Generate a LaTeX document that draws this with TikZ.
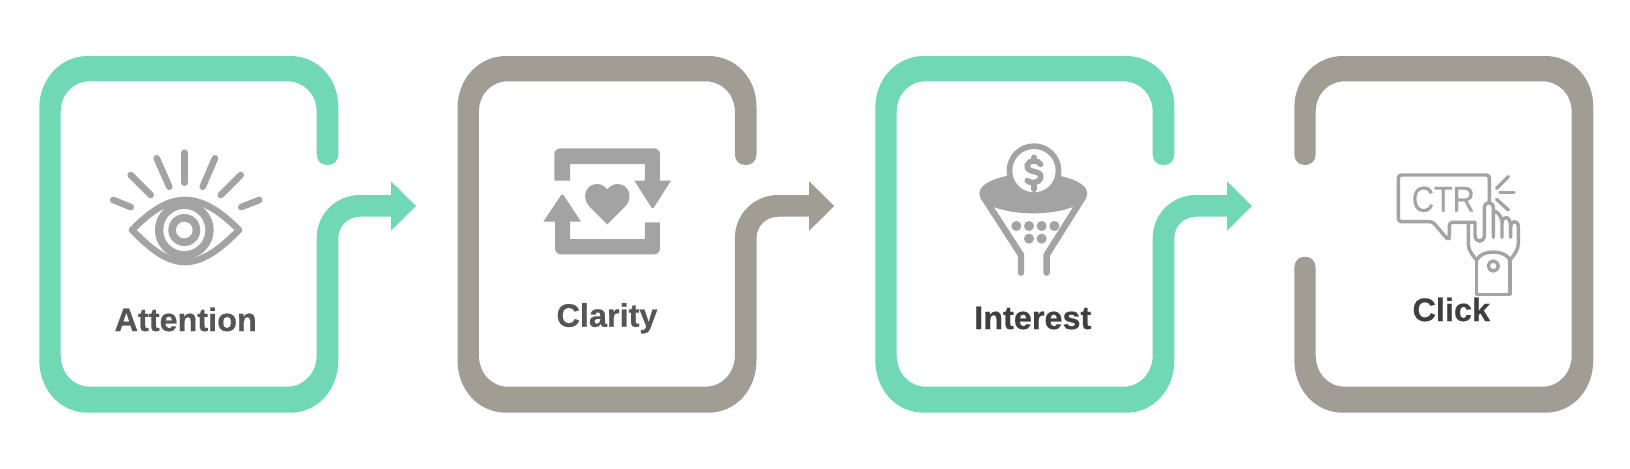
\documentclass[tikz,border=0pt]{standalone}
\usepackage{fontspec}
\setmainfont{Liberation Sans}
\newfontfamily\labelfont[BoldFeatures={FakeBold=0.6}]{Liberation Sans}
\newfontfamily\ctrfont[FakeBold=0.35]{Liberation Sans}
\definecolor{ringgreen}{HTML}{70D8B5}
\definecolor{ringgrey}{HTML}{A19C94}
\definecolor{icongrey}{HTML}{A3A3A3}
\definecolor{labeldark}{HTML}{555555}
\definecolor{labeldarker}{HTML}{3F3F3F}
\tikzset{
  panelarrow/.pic={
    \path[pic actions]
      (338.3,154) -- (338.3,107) .. controls (338.3,78) and (317.6,56) .. (290,56)
      -- (88,56) .. controls (60.4,56) and (39.3,79) .. (39.3,108)
      -- (39.3,360) .. controls (39.3,390) and (60.4,412.7) .. (88,412.7)
      -- (290,412.7) .. controls (317.6,412.7) and (338.3,390) .. (338.3,360)
      -- (338.3,238) .. controls (338.3,226) and (348,216.7) .. (360,216.7)
      -- (391,216.7) -- (391,230.7) -- (416,206) -- (391,181.3) -- (391,195)
      -- (360,195) .. controls (336,195) and (316.7,214) .. (316.7,238)
      -- (316.7,355) .. controls (316.7,373) and (304,386.7) .. (287,386.7)
      -- (90,386.7) .. controls (73,386.7) and (60.7,373) .. (60.7,355)
      -- (60.7,112) .. controls (60.7,94.3) and (73,81.3) .. (90,81.3)
      -- (287,81.3) .. controls (304,81.3) and (316.7,94.3) .. (316.7,112)
      -- (316.7,154) .. controls (316.7,161) and (321,165) .. (327.5,165)
      .. controls (334,165) and (338.3,161) .. (338.3,154) -- cycle;
  },
  panelgap/.pic={
    \path[pic actions]
      (39.3,154) -- (39.3,108) .. controls (39.3,79) and (60.4,56) .. (88,56)
      -- (290,56) .. controls (317.6,56) and (338.3,78) .. (338.3,107)
      -- (338.3,360) .. controls (338.3,390) and (317.6,412.7) .. (290,412.7)
      -- (88,412.7) .. controls (60.4,412.7) and (39.3,390) .. (39.3,360)
      -- (39.3,267.5) .. controls (39.3,261) and (44,256.7) .. (50,256.7)
      .. controls (56,256.7) and (60.7,261) .. (60.7,267.5)
      -- (60.7,355) .. controls (60.7,373) and (73,386.7) .. (90,386.7)
      -- (287,386.7) .. controls (304,386.7) and (316.7,373) .. (316.7,355)
      -- (316.7,112) .. controls (316.7,94.3) and (304,81.3) .. (287,81.3)
      -- (90,81.3) .. controls (73,81.3) and (60.7,94.3) .. (60.7,112)
      -- (60.7,154) .. controls (60.7,161) and (56,165) .. (50,165)
      .. controls (44,165) and (39.3,161) .. (39.3,154) -- cycle;
  },
  labeltext/.style={anchor=base,inner sep=0pt,font=\labelfont\fontsize{16.2}{20}\selectfont\bfseries},
  eyeray/.style={draw=icongrey,line width=3.3pt,line cap=round},
  thin icon/.style={draw=icongrey,line width=1.7pt,line join=round,line cap=round},
  funnel line/.style={draw=icongrey,line width=3.2pt,line cap=round,line join=round},
  dollar line/.style={draw=icongrey,line width=2.8pt,line cap=round},
}
\begin{document}
\begin{tikzpicture}[x=.5pt,y=-.5pt]
\useasboundingbox (0,0) rectangle (1630,468);
\fill[white] (0,0) rectangle (1630,468);
\pic[fill=ringgreen] at (0,0) {panelarrow};
\pic[fill=ringgrey] at (418.2,0) {panelarrow};
\pic[fill=ringgreen] at (836,0) {panelarrow};
\pic[fill=ringgrey] at (1255,0) {panelgap};
% eye
\draw[eyeray] (113.3,200) -- (130.7,207);
\draw[eyeray] (130.7,175) -- (150.7,195);
\draw[eyeray] (156.7,158.3) -- (169.3,186.7);
\draw[eyeray] (184.3,152.7) -- (184.3,182.7);
\draw[eyeray] (215,158.3) -- (202.7,186.7);
\draw[eyeray] (240.7,175) -- (220.7,195);
\draw[eyeray] (259.3,200) -- (241.3,207);
\draw[eyeray,line join=round] (132,230) .. controls (148,214) and (165,200) .. (185,200)
  .. controls (205,200) and (223,214) .. (239,230)
  .. controls (223,246) and (205,262) .. (185,262)
  .. controls (165,262) and (148,246) .. (132,230) -- cycle;
\fill[icongrey] (184.3,230) circle[radius=14.65pt];
\fill[white] (184.3,230) circle[radius=10.5pt];
\fill[icongrey] (184.3,230) circle[radius=8pt];
\fill[white] (184.3,230) circle[radius=4.15pt];
% arrows and heart
\begin{scope}[shift={(520,130)},x=.5pt/3,y=-.5pt/3]
\fill[icongrey] (103,152) [rounded corners=3pt] -- (103,55) -- (420,55) [sharp corners] -- (420,152) -- (453,152) [rounded corners=.8pt] -- (398,238) [sharp corners] -- (343,152) -- (375,152) -- (375,102) -- (150,102) -- (150,152) -- cycle;
\fill[icongrey] (105,275) -- (70,275) [rounded corners=.8pt] -- (127,190) [sharp corners] -- (183,275) -- (150,275) -- (150,327) -- (375,327) -- (375,277) -- (420,277) [rounded corners=3pt] -- (420,373) -- (105,373) [sharp corners] -- cycle;
\fill[icongrey] (262,283) -- (207,228) .. controls (185,205) and (195,162) .. (232,162) .. controls (245,162) and (255,170) .. (262,178) .. controls (269,170) and (279,162) .. (292,162) .. controls (329,162) and (339,205) .. (317,228) -- cycle;
\end{scope}
% funnel
\begin{scope}[shift={(950,130)},x=.5pt/3,y=-.5pt/3]
\draw[funnel line] (100,200) -- (213,375) -- (213,428);
\draw[funnel line] (400,200) -- (290,375) -- (290,428);
\fill[icongrey] (250,190) ellipse[x radius=162,y radius=60];
\fill[icongrey] (252,122) circle[radius=13.7pt];
\fill[white] (252,122) circle[radius=10.8pt];
\draw[dollar line]
  (272,103) .. controls (266,90) and (236,88) .. (232,106)
  .. controls (228,132) and (276,118) .. (272,142)
  .. controls (268,162) and (238,160) .. (232,152);
\draw[dollar line] (252,82) -- (252,92);
\draw[dollar line] (252,162) -- (252,178);
\foreach \cx/\cy in {199/288,237/288,275/288,313/288,237/326,275/326}
  \fill[icongrey] (\cx,\cy) circle[radius=2.5pt];
\end{scope}
% CTR hand
\begin{scope}[shift={(1380,160)},x=.5pt/3,y=-.5pt/3]
\draw[thin icon,rounded corners=1.5pt] (328,130) -- (328,45) -- (55,45) -- (55,185) -- (158,185) -- (200,235) -- (208,235) -- (208,187) -- (285,187);
\node[inner sep=0pt,anchor=base,text=icongrey,xscale=.85,font=\ctrfont\fontsize{18}{20}\selectfont] (ctr) at (190,155) {CTR};
\draw[thin icon] (385,50) -- (350,85);
\draw[thin icon] (360,98) -- (402,98);
\draw[thin icon] (350,118) -- (385,150);
\draw[thin icon] (265,187) -- (265,255) .. controls (267,275) and (280,288) .. (290,300)
  .. controls (305,268) and (375,268) .. (390,300)
  .. controls (402,285) and (415,270) .. (415,250) -- (415,200)
  .. controls (415,180) and (392,180) .. (392,200) -- (392,232);
\draw[thin icon] (392,200) .. controls (392,165) and (366,165) .. (366,190) -- (366,232);
\draw[thin icon] (366,185) .. controls (362,160) and (345,150) .. (340,155);
\draw[thin icon] (340,232) -- (340,145) .. controls (340,122) and (313,122) .. (313,145) -- (313,225) .. controls (313,250) and (285,250) .. (285,225) -- (285,187);
\draw[thin icon] (290,300) -- (290,403) -- (390,403) -- (390,300);
\draw[thin icon] (340,318) circle[radius=2.5pt];
\end{scope}
% labels
\node[labeltext,text=labeldark] (attention) at (185.7,331) {Attention};
\node[labeltext,text=labeldark] (clarity) at (607,326.7) {Clarity};
\node[labeltext,text=labeldarker] (interest) at (1032.8,329) {Interest};
\node[labeltext,text=labeldarker] (click) at (1451.3,321) {Click};
\end{tikzpicture}
\end{document}
